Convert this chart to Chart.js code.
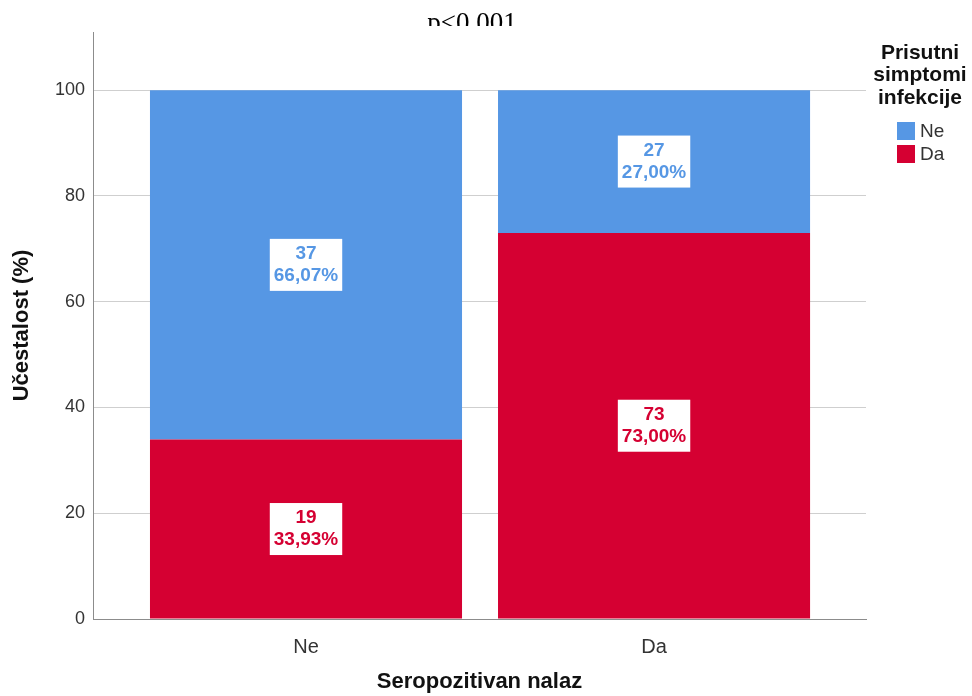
<!DOCTYPE html>
<html lang="sr">
<head>
    <meta charset="UTF-8">
    <title>Seropozitivan nalaz</title>
    <script src="https://cdn.jsdelivr.net/npm/chart.js"></script>
    <style>
        body { margin: 0; background: #fff; }
        #wrap { width: 972px; height: 696px; position: relative; }
    </style>
</head>
<body>
    <div id="wrap"><canvas id="chart"></canvas></div>

    <script>
        // categories on the x axis (Seropozitivan nalaz)
        const categories = ['Ne', 'Da'];
        // Prisutni simptomi infekcije - percentages and counts
        const daPct = [33.93, 73.00];
        const nePct = [66.07, 27.00];
        const daCount = [19, 73];
        const neCount = [37, 27];
        const yTicks = [0, 20, 40, 60, 80, 100];

        const BLUE = '#5697e4';
        const RED = '#d50032';
        const FONT = '"Liberation Sans", Arial, sans-serif';

        function points(arr) {
            return arr.map((v, i) => ({ x: i, y: v }));
        }

        // white boxes with count + percentage in the middle of each segment
        const labelPlugin = {
            id: 'segLabels',
            afterDatasetsDraw(chart) {
                const ctx = chart.ctx;
                ctx.save();
                ctx.font = 'bold 19px ' + FONT;
                ctx.textAlign = 'center';
                ctx.textBaseline = 'middle';
                chart.data.datasets.forEach((ds, di) => {
                    const meta = chart.getDatasetMeta(di);
                    meta.data.forEach((bar, i) => {
                        const lines = [String(ds.counts[i]), ds.data[i].y.toFixed(2).replace('.', ',') + '%'];
                        const cy = (bar.y + bar.base) / 2;
                        const w = Math.max(...lines.map(t => ctx.measureText(t).width)) + 8;
                        const lh = 22;
                        const h = lh * 2 + 8;
                        ctx.fillStyle = '#fff';
                        ctx.fillRect(bar.x - w / 2, cy - h / 2, w, h);
                        ctx.fillStyle = ds.backgroundColor;
                        ctx.fillText(lines[0], bar.x, cy - lh / 2);
                        ctx.fillText(lines[1], bar.x, cy + lh / 2);
                    });
                });
                ctx.restore();
            }
        };

        // title cut off at the top + legend on the right
        const extrasPlugin = {
            id: 'extras',
            afterDraw(chart) {
                const ctx = chart.ctx;
                ctx.save();
                ctx.beginPath();
                ctx.rect(0, 0, chart.width, 26);
                ctx.clip();
                ctx.fillStyle = '#000';
                ctx.font = '27px "Liberation Serif", "Times New Roman", serif';
                ctx.textAlign = 'center';
                ctx.textBaseline = 'alphabetic';
                ctx.fillText('p<0,001', 472, 31);
                ctx.restore();

                ctx.save();
                ctx.fillStyle = '#111';
                ctx.font = 'bold 21px ' + FONT;
                ctx.textAlign = 'center';
                ctx.textBaseline = 'middle';
                ['Prisutni', 'simptomi', 'infekcije'].forEach((t, i) => {
                    ctx.fillText(t, 920, 53 + i * 22.5);
                });
                const items = [
                    { label: 'Ne', color: BLUE },
                    { label: 'Da', color: RED }
                ];
                ctx.font = '19px ' + FONT;
                ctx.textAlign = 'left';
                items.forEach((it, i) => {
                    const cy = 131 + i * 23;
                    ctx.fillStyle = it.color;
                    ctx.fillRect(897, cy - 9, 18, 18);
                    ctx.fillStyle = '#333';
                    ctx.fillText(it.label, 920, cy + 1);
                });
                ctx.restore();
            }
        };

        new Chart(document.getElementById('chart'), {
            type: 'bar',
            data: {
                datasets: [
                    { label: 'Da', data: points(daPct), counts: daCount, backgroundColor: RED },
                    { label: 'Ne', data: points(nePct), counts: neCount, backgroundColor: BLUE }
                ]
            },
            options: {
                responsive: true,
                maintainAspectRatio: false,
                animation: false,
                layout: { padding: { left: 0, top: 32, right: 106, bottom: 0 } },
                datasets: { bar: { categoryPercentage: 1, barPercentage: 0.8966 } },
                plugins: {
                    legend: { display: false },
                    tooltip: { enabled: false },
                    title: { display: false }
                },
                scales: {
                    x: {
                        type: 'linear',
                        offset: false,
                        stacked: true,
                        min: -0.612,
                        max: 1.609,
                        afterFit: s => { s.height = 77; },
                        afterBuildTicks: s => { s.ticks = categories.map((c, i) => ({ value: i })); },
                        grid: { display: false },
                        border: { color: '#8c8c8c' },
                        ticks: {
                            padding: 8,
                            color: '#333',
                            font: { family: FONT, size: 20 },
                            callback: v => categories[v] ?? ''
                        },
                        title: {
                            display: true,
                            text: 'Seropozitivan nalaz',
                            color: '#111',
                            font: { family: FONT, size: 22, weight: 'bold' },
                            padding: { top: 0, bottom: 1 }
                        }
                    },
                    y: {
                        stacked: true,
                        min: 0,
                        max: 111,
                        afterFit: s => { s.width = 93; },
                        afterBuildTicks: s => { s.ticks = yTicks.map(v => ({ value: v })); },
                        grid: { color: '#cfcfcf', drawTicks: false },
                        border: { color: '#8c8c8c' },
                        ticks: {
                            padding: 8,
                            color: '#333',
                            font: { family: FONT, size: 18 }
                        },
                        title: {
                            display: true,
                            text: 'Učestalost (%)',
                            color: '#111',
                            font: { family: FONT, size: 22, weight: 'bold' },
                            padding: { top: 9, bottom: 0 }
                        }
                    }
                }
            },
            plugins: [labelPlugin, extrasPlugin]
        });
    </script>
</body>
</html>
